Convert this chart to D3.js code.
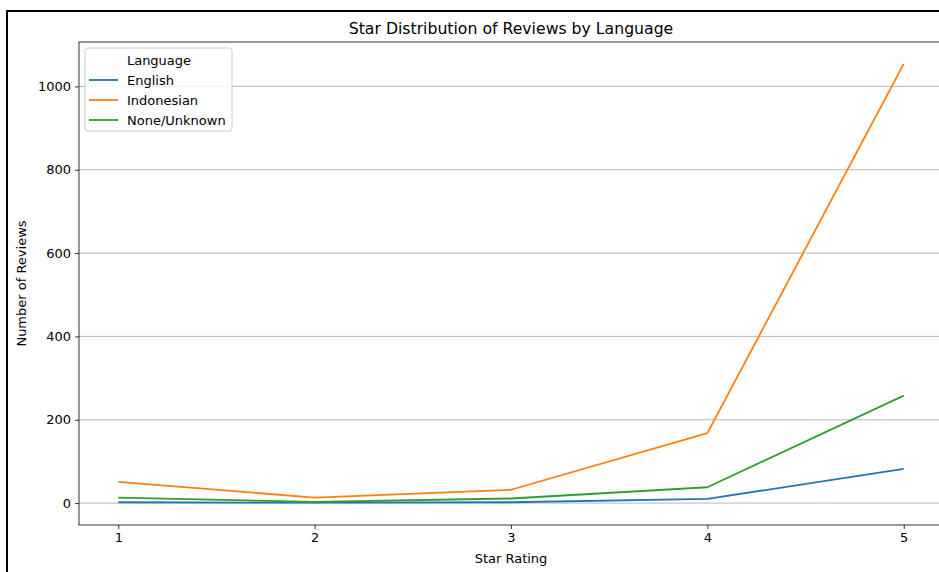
<!DOCTYPE html>
<html>
<head>
<meta charset="utf-8">
<script src="https://cdn.jsdelivr.net/npm/d3@7"></script>
<style>
  body { margin: 0; background: #fff; }
  svg { display: block; font-family: "DejaVu Sans", sans-serif; }
</style>
</head>
<body>
<svg id="chart"></svg>
<script>
// star ratings on the x axis
const starRatings = [1, 2, 3, 4, 5];
// review counts per language
const englishCounts = [2, 1, 2, 10, 82];
const indonesianCounts = [51, 13, 32, 168, 1054];
const unknownCounts = [13, 3, 11, 38, 258];
const languages = ['English', 'Indonesian', 'None/Unknown'];
const yTicks = [0, 200, 400, 600, 800, 1000];

class LineChart {

    constructor(_config, _data) {
        this.config = {
            parentElement: _config.parentElement,
            containerWidth: _config.containerWidth || 939,
            containerHeight: _config.containerHeight || 572,
            margin: { top: 42, bottom: 47, right: -4, left: 79 }
        }
        this.data = _data;
        this.initVis();
    }

    initVis() {
        let vis = this;

        vis.width = vis.config.containerWidth - vis.config.margin.left - vis.config.margin.right;
        vis.height = vis.config.containerHeight - vis.config.margin.top - vis.config.margin.bottom;

        vis.svg = d3.select(vis.config.parentElement)
            .attr('width', vis.config.containerWidth)
            .attr('height', vis.config.containerHeight);

        // outer frame of the screenshot
        vis.svg.append('rect')
            .attr('x', 7).attr('y', 11)
            .attr('width', vis.config.containerWidth + 20)
            .attr('height', vis.config.containerHeight + 20)
            .attr('fill', 'none')
            .attr('stroke', '#000')
            .attr('stroke-width', 2);

        vis.chart = vis.svg.append('g')
            .attr('transform', `translate(${vis.config.margin.left},${vis.config.margin.top})`);

        // matplotlib-like 5% margins
        vis.xScale = d3.scaleLinear().domain([0.8, 5.2]).range([0, vis.width]);
        vis.yScale = d3.scaleLinear().domain([-52.6, 1106.6]).range([vis.height, 0]);

        vis.colorScale = d3.scaleOrdinal()
            .domain(languages)
            .range(['#1f77b4', '#ff7f0e', '#2ca02c']);

        // horizontal grid
        vis.chart.append('g')
            .selectAll('line')
            .data(yTicks)
            .join('line')
                .attr('x1', 0).attr('x2', vis.width)
                .attr('y1', d => vis.yScale(d)).attr('y2', d => vis.yScale(d))
                .attr('stroke', '#b0b0b0')
                .attr('stroke-width', 0.9);

        // lines
        vis.line = d3.line()
            .x(d => vis.xScale(d.star))
            .y(d => vis.yScale(d.count));

        vis.chart.selectAll('.line-path')
            .data(vis.data)
            .join('path')
                .attr('class', 'line-path')
                .attr('d', d => vis.line(d.values))
                .attr('fill', 'none')
                .attr('stroke', d => vis.colorScale(d.key))
                .attr('stroke-width', 1.8)
                .attr('stroke-linejoin', 'round');

        // axes
        const xAxis = vis.chart.append('g')
            .attr('transform', `translate(0,${vis.height})`)
            .call(d3.axisBottom(vis.xScale).tickValues(starRatings).tickFormat(d3.format('d'))
                .tickSize(4).tickPadding(4));
        const yAxis = vis.chart.append('g')
            .call(d3.axisLeft(vis.yScale).tickValues(yTicks).tickFormat(d3.format('d'))
                .tickSize(4).tickPadding(4));

        [xAxis, yAxis].forEach(a => {
            a.selectAll('text').attr('font-size', 13).attr('font-family', '"DejaVu Sans", sans-serif').attr('fill', '#000');
            a.selectAll('line').attr('stroke', '#000').attr('stroke-width', 0.8);
            a.select('.domain').remove();
        });

        // spines
        vis.chart.append('rect')
            .attr('x', 0).attr('y', 0)
            .attr('width', vis.width).attr('height', vis.height)
            .attr('fill', 'none')
            .attr('stroke', '#000')
            .attr('stroke-width', 0.8);

        // title and labels
        vis.chart.append('text')
            .attr('x', vis.width / 2).attr('y', -8)
            .attr('text-anchor', 'middle')
            .attr('font-size', 15.7)
            .text('Star Distribution of Reviews by Language');

        vis.chart.append('text')
            .attr('x', vis.width / 2).attr('y', vis.height + 38)
            .attr('text-anchor', 'middle')
            .attr('font-size', 13)
            .text('Star Rating');

        vis.chart.append('text')
            .attr('transform', `translate(${-53},${vis.height / 2}) rotate(-90)`)
            .attr('text-anchor', 'middle')
            .attr('font-size', 13)
            .text('Number of Reviews');

        // legend
        const legend = vis.chart.append('g').attr('transform', 'translate(6,6)');
        legend.append('rect')
            .attr('width', 147).attr('height', 83)
            .attr('rx', 3)
            .attr('fill', '#fff').attr('fill-opacity', 0.8)
            .attr('stroke', '#cccccc');
        legend.append('text')
            .attr('x', 74).attr('y', 17)
            .attr('text-anchor', 'middle')
            .attr('font-size', 13)
            .text('Language');
        const items = legend.selectAll('.legend-item')
            .data(languages)
            .join('g')
                .attr('class', 'legend-item')
                .attr('transform', (d, i) => `translate(4,${32 + i * 20})`);
        items.append('line')
            .attr('x1', 0).attr('x2', 29)
            .attr('stroke', d => vis.colorScale(d))
            .attr('stroke-width', 1.8);
        items.append('text')
            .attr('x', 38).attr('y', 5)
            .attr('font-size', 13)
            .text(d => d);
    }
}

const chartData = [
    { key: 'English', counts: englishCounts },
    { key: 'Indonesian', counts: indonesianCounts },
    { key: 'None/Unknown', counts: unknownCounts }
].map(s => ({ key: s.key, values: starRatings.map((star, i) => ({ star: star, count: s.counts[i] })) }));

new LineChart({ parentElement: '#chart', containerWidth: 939, containerHeight: 572 }, chartData);
</script>
</body>
</html>
